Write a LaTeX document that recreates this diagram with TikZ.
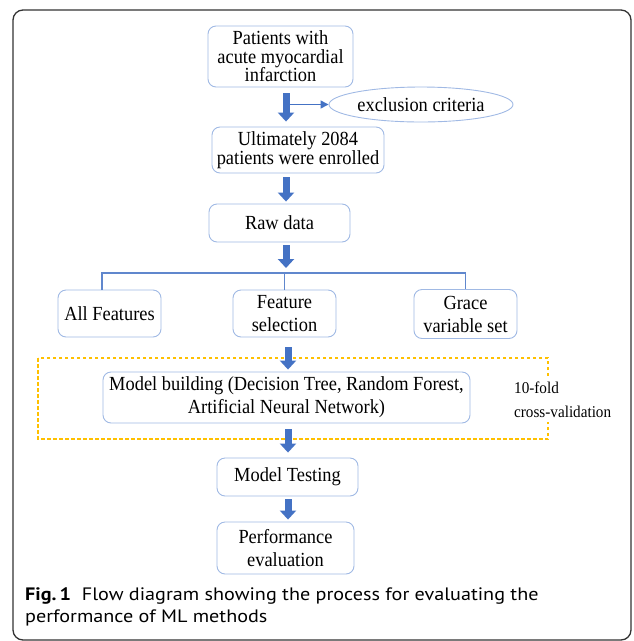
\documentclass[tikz,border=0pt]{standalone}
\usepackage{fontspec}
\setmainfont[FakeStretch=0.92]{Liberation Serif}
\newfontfamily\capfont[FakeStretch=1.12]{PT Sans}
\usetikzlibrary{positioning, arrows.meta, shapes.geometric}
\definecolor{boxline}{RGB}{160,185,228}
\definecolor{flowblue}{RGB}{68,114,196}
\definecolor{cvgold}{RGB}{255,192,0}

\begin{document}
\begin{tikzpicture}[x=1pt, y=-1pt,
        box/.style={draw=boxline, line width=0.9pt, rounded corners=8pt, align=center,
            inner sep=2pt, font=\fontsize{20}{23}\selectfont},
        tight/.style={font=\fontsize{20}{18.5}\selectfont},
        oval/.style={ellipse, draw=boxline, line width=0.9pt, inner sep=0pt,
            font=\fontsize{20}{23}\selectfont},
        bigarrow/.style={draw=flowblue, line width=7pt, -{Triangle[width=16pt, length=9pt]}},
        thinarrow/.style={draw=flowblue, line width=1.3pt, -{Triangle[width=8pt, length=8pt]}},
        tree/.style={draw=flowblue!85, line width=1.1pt},
        cvbox/.style={draw=cvgold, line width=1.1pt, dash pattern=on 3.5pt off 2.5pt},
        frame/.style={draw=black!80, line width=1.3pt, rounded corners=10pt}]
        \useasboundingbox (0,0) rectangle (634,641);
        \draw[frame] (13,10) rectangle (631,640);
        \coordinate (c1) at (286,0);
        \coordinate (c2) at (288,0);
        \coordinate (s) at (285,273);
        \coordinate (t) at (289.5,104.5);
        \node[box, tight, minimum width=145pt, minimum height=61pt] (1) at (280.5,56.5) {Patients with\\acute myocardial\\infarction};
        \node[oval, minimum width=184pt, minimum height=35pt] (2) at (421,104.5) {exclusion criteria};
        \node[box, tight, minimum width=172pt, minimum height=46pt] (3) at (298,150) {Ultimately 2084\\patients were enrolled};
        \node[box, minimum width=141pt, minimum height=38pt] (4) at (279.5,223) {Raw data};
        \node[box, minimum width=103pt, minimum height=47pt] (5) at (109.5,313.5) {All Features};
        \node[box, minimum width=103pt, minimum height=47pt] (6) at (284.5,313.5) {Feature\\selection};
        \node[box, minimum width=103pt, minimum height=49pt] (7) at (465.5,314) {Grace\\variable set};
        \draw[cvbox] (38,358) rectangle (548,439);
        \node[box, minimum width=367pt, minimum height=51pt] (8) at (286.5,397.5) {Model building (Decision Tree, Random Forest,\\Artificial Neural Network)};
        \node[fill=white, align=left, inner sep=4pt, anchor=west, font=\fontsize{16.5}{24}\selectfont] (11) at (510,400) {10-fold\\cross-validation};
        \node[box, minimum width=141pt, minimum height=38pt] (9) at (287.5,477) {Model Testing};
        \node[box, minimum width=137pt, minimum height=52pt] (10) at (285.5,548) {Performance\\evaluation};
        \draw[bigarrow, shorten <=6pt, shorten >=5pt] (1.south -| c1) -- (3.north -| c1);
        \draw[thinarrow] (t) -- (2.west);
        \draw[bigarrow, shorten <=4pt, shorten >=2pt] (3.south -| c1) -- (4.north -| c1);
        \draw[bigarrow, shorten <=3pt, shorten >=5pt] (4.south -| c1) -- (s -| c1);
        \draw[tree] ([xshift=-7.5pt]5.north) |- (s) -| (7.north);
        \draw[tree] (6.north) -- (6.north |- s);
        \draw[bigarrow, shorten <=10pt, shorten >=2pt] (6.south -| c2) -- (8.north -| c2);
        \draw[bigarrow, shorten <=6pt, shorten >=5pt] (8.south -| c2) -- (9.north -| c2);
        \draw[bigarrow, shorten <=3pt, shorten >=2pt] (9.south -| c2) -- (10.north -| c2);
        % caption
        \node[anchor=north west, align=left, inner sep=0pt, font=\capfont\fontsize{18}{22}\selectfont] (cap) at (25,587)
            {\textbf{Fig.\,1}\hspace{0.6em}Flow diagram showing the process for evaluating the\\performance of ML methods};
\end{tikzpicture}
\end{document}
